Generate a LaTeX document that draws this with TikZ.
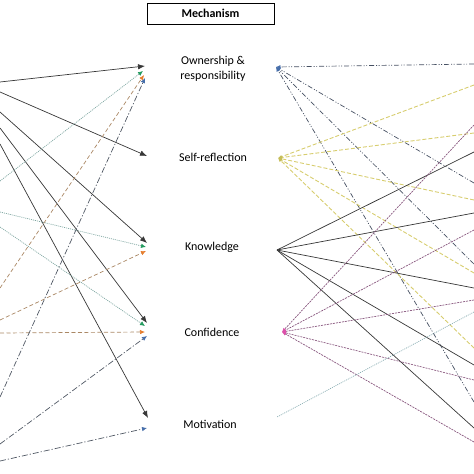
\documentclass[tikz,border=0pt]{standalone}
\usepackage{fontspec}
\setmainfont{Carlito}
\usetikzlibrary{arrows.meta}
\definecolor{LineBlack}{RGB}{55,55,55}
\definecolor{LineTeal}{RGB}{125,165,160}
\definecolor{TipGreen}{RGB}{35,155,95}
\definecolor{LineBrown}{RGB}{170,135,100}
\definecolor{TipOrange}{RGB}{230,125,45}
\definecolor{LineSlate}{RGB}{80,88,100}
\definecolor{TipBlue}{RGB}{70,110,170}
\definecolor{LineOwn}{RGB}{70,80,98}
\definecolor{LineYellow}{RGB}{215,205,110}
\definecolor{LinePlum}{RGB}{135,85,125}
\definecolor{TipPink}{RGB}{220,80,170}
\definecolor{LineSky}{RGB}{140,175,180}

\begin{document}
\begin{tikzpicture}[
    x=1pt,y=-1pt,
    mechbox/.style={
        rectangle,
        draw=black,
        line width=0.6pt,
        minimum width=127pt,
        minimum height=21pt,
        font=\fontsize{12}{14}\selectfont\bfseries
    },
    mechlabel/.style={
        align=center,
        inner sep=0pt,
        text=black,
        font=\fontsize{12}{14.5}\selectfont
    },
    blackarrow/.style={
        -{Latex[length=7pt,width=5.5pt]},
        line width=0.7pt,
        draw=LineBlack
    },
    tealarrow/.style={
        -{Latex[length=5pt,width=4.5pt,color=TipGreen]},
        line width=0.7pt,
        draw=LineTeal,
        dash pattern=on 1pt off 1pt
    },
    brownarrow/.style={
        -{Latex[length=5pt,width=4.5pt,color=TipOrange]},
        line width=0.7pt,
        draw=LineBrown,
        dash pattern=on 4pt off 2.5pt
    },
    slatearrow/.style={
        -{Latex[length=5pt,width=4.5pt,color=TipBlue]},
        line width=0.7pt,
        draw=LineSlate,
        dash pattern=on 6pt off 2pt on 1.2pt off 2pt
    },
    ownline/.style={
        -{Latex[length=4.5pt,width=4pt,color=TipBlue]},
        line width=0.7pt,
        draw=LineOwn,
        dash pattern=on 5pt off 2pt on 1pt off 1.5pt on 1pt off 2pt
    },
    selfline/.style={
        -{Latex[length=4pt,width=3.5pt,color=LineYellow!80!olive]},
        line width=0.9pt,
        draw=LineYellow,
        dash pattern=on 4pt off 2pt
    },
    knowline/.style={
        line width=0.7pt,
        draw=LineBlack
    },
    confline/.style={
        -{Latex[length=4pt,width=3.5pt,color=TipPink]},
        line width=0.7pt,
        draw=LinePlum,
        dash pattern=on 2pt off 1pt
    },
    motiline/.style={
        line width=0.7pt,
        draw=LineSky,
        dash pattern=on 1pt off 1pt
    }
]
\useasboundingbox (0,0) rectangle (474,474);
\clip (0,0) rectangle (474,474);

% mechanism column
\node[mechbox] (mech) at (210.5,13.5) {Mechanism};
\node[mechlabel] (own) at (213,69) {Ownership \&\\responsibility};
\node[mechlabel] (self) at (213,157) {Self-reflection};
\node[mechlabel] (know) at (212,247) {Knowledge};
\node[mechlabel] (conf) at (212,332) {Confidence};
\node[mechlabel] (moti) at (210,424) {Motivation};

% arrow tips on the left of the labels
\coordinate (own-k) at (145,66);
\coordinate (own-g) at (143,71);
\coordinate (own-o) at (144,75);
\coordinate (own-b) at (145,78);
\coordinate (self-k) at (147,156);
\coordinate (know-k) at (147,243);
\coordinate (know-g) at (146,247);
\coordinate (know-o) at (146,251);
\coordinate (conf-k) at (147,323);
\coordinate (conf-g) at (145,326);
\coordinate (conf-o) at (145,332);
\coordinate (conf-b) at (147,336);
\coordinate (moti-k) at (148,418);
\coordinate (moti-b) at (147,428);

% incoming lines from the left edge
\coordinate (in-k1) at (0,82);
\coordinate (in-k2) at (0,92);
\coordinate (in-k3) at (0,112);
\coordinate (in-k4) at (0,128);
\coordinate (in-k5) at (0,144);
\coordinate (in-g1) at (0,181);
\coordinate (in-g2) at (0,212);
\coordinate (in-g3) at (0,227);
\coordinate (in-o1) at (0,288);
\coordinate (in-o2) at (0,320);
\coordinate (in-o3) at (0,333);
\coordinate (in-b1) at (0,397);
\coordinate (in-b2) at (0,444);
\coordinate (in-b3) at (0,461);

\draw[blackarrow] (in-k1) -- (own-k);
\draw[blackarrow] (in-k2) -- (self-k);
\draw[blackarrow] (in-k3) -- (know-k);
\draw[blackarrow] (in-k4) -- (conf-k);
\draw[blackarrow] (in-k5) -- (moti-k);

\draw[tealarrow] (in-g1) -- (own-g);
\draw[tealarrow] (in-g2) -- (know-g);
\draw[tealarrow] (in-g3) -- (conf-g);

\draw[brownarrow] (in-o1) -- (own-o);
\draw[brownarrow] (in-o2) -- (know-o);
\draw[brownarrow] (in-o3) -- (conf-o);

\draw[slatearrow] (in-b1) -- (own-b);
\draw[slatearrow] (in-b2) -- (conf-b);
\draw[slatearrow] (in-b3) -- (moti-b);

% hubs on the right of the labels
\coordinate (own-hub) at (276,67);
\coordinate (self-hub) at (278,158);
\coordinate (know-hub) at (277,250);
\coordinate (conf-hub) at (282,332);
\coordinate (moti-hub) at (277,417);

% lines from the right edge
\coordinate (out-a1) at (474,64);
\coordinate (out-a2) at (474,183);
\coordinate (out-a3) at (474,264);
\coordinate (out-a4) at (474,402);
\draw[ownline] (out-a1) -- (own-hub);
\draw[ownline] (out-a2) -- (own-hub);
\draw[ownline] (out-a3) -- (own-hub);
\draw[ownline] (out-a4) -- (own-hub);

\coordinate (out-s1) at (474,85);
\coordinate (out-s2) at (474,133);
\coordinate (out-s3) at (474,200);
\coordinate (out-s4) at (474,273);
\coordinate (out-s5) at (474,348);
\draw[selfline] (out-s1) -- (self-hub);
\draw[selfline] (out-s2) -- (self-hub);
\draw[selfline] (out-s3) -- (self-hub);
\draw[selfline] (out-s4) -- (self-hub);
\draw[selfline] (out-s5) -- (self-hub);

\coordinate (out-n1) at (474,152);
\coordinate (out-n2) at (474,213);
\coordinate (out-n3) at (474,288);
\coordinate (out-n4) at (474,365);
\coordinate (out-n5) at (474,428);
\draw[knowline] (out-n1) -- (know-hub);
\draw[knowline] (out-n2) -- (know-hub);
\draw[knowline] (out-n3) -- (know-hub);
\draw[knowline] (out-n4) -- (know-hub);
\draw[knowline] (out-n5) -- (know-hub);

\coordinate (out-c1) at (474,125);
\coordinate (out-c2) at (474,230);
\coordinate (out-c3) at (474,300);
\coordinate (out-c4) at (474,380);
\coordinate (out-c5) at (474,442);
\draw[confline] (out-c1) -- (conf-hub);
\draw[confline] (out-c2) -- (conf-hub);
\draw[confline] (out-c3) -- (conf-hub);
\draw[confline] (out-c4) -- (conf-hub);
\draw[confline] (out-c5) -- (conf-hub);

\coordinate (out-m1) at (474,312);
\draw[motiline] (out-m1) -- (moti-hub);

\end{tikzpicture}
\end{document}
